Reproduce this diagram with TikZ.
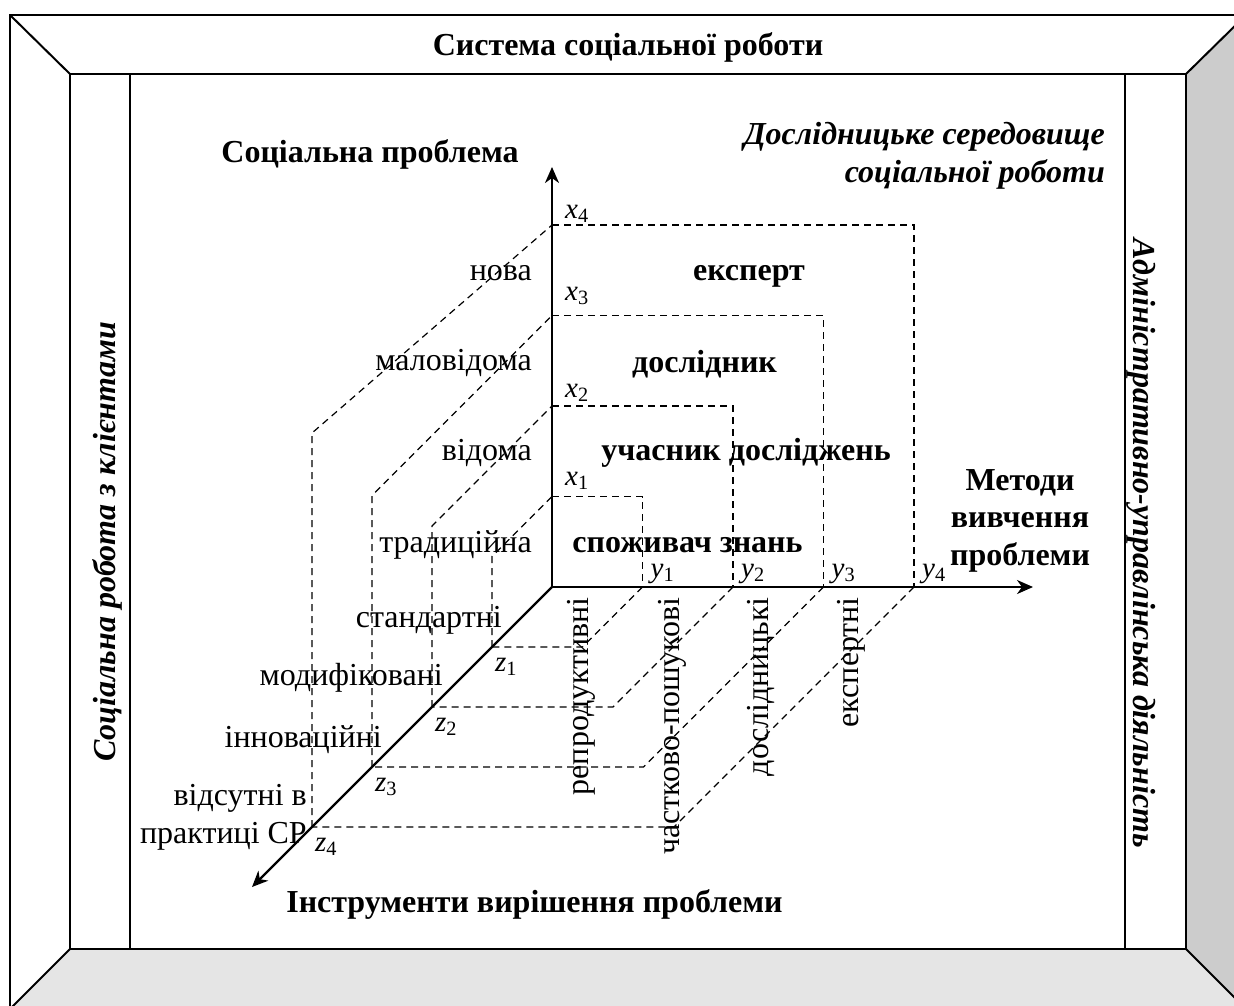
\documentclass[tikz,border=0pt]{standalone}
\usepackage{fontspec}
\setmainfont{Liberation Serif}
\usetikzlibrary{arrows.meta,calc}

\newcommand\lblsize{\fontsize{32}{37.5}\selectfont}
\newcommand\ticksize{\fontsize{29}{30}\selectfont}
\newcommand\ax[2]{\textit{#1}\textsubscript{#2}}
\colorlet{wallgray}{gray!40}
\colorlet{floorgray}{gray!20}

\begin{document}
\begin{tikzpicture}
[
	x=1pt,y=-1pt,
	frameline/.style={line width=2pt},
	axisline/.style={line width=2.2pt,-{Stealth[length=16pt,width=14pt,inset=5pt]}},
	gridline/.style={line width=1.2pt,dash pattern=on 7pt off 5pt},
	headlbl/.style={font=\lblsize\bfseries,inner sep=0pt,anchor=base,align=center},
	sidelbl/.style={font=\lblsize\bfseries\itshape,inner sep=0pt,anchor=base},
	rolelbl/.style={font=\lblsize\bfseries,inner sep=0pt,anchor=base},
	levellbl/.style={font=\lblsize,inner sep=0pt,anchor=base east,align=right},
	methodlbl/.style={font=\lblsize,inner sep=0pt,anchor=base east,rotate=90},
	ticklbl/.style={font=\ticksize,inner sep=0pt,anchor=base west}
]

	\clip (0,0) rectangle (1234,1005);

	\fill[wallgray] (1186,74) -- (1246,15) -- (1246,1009) -- (1186,949) -- cycle;
	\fill[floorgray] (70,949) -- (1186,949) -- (1246,1009) -- (10,1009) -- cycle;
	\draw[frameline] (10,1009) -- (10,15) -- (1246,15);
	\draw[frameline] (70,74) rectangle (1186,949);
	\draw[frameline] (130,74) -- (130,949);
	\draw[frameline] (1125,74) -- (1125,949);
	\draw[frameline] (10,15) -- (70,74) (1246,15) -- (1186,74);
	\draw[frameline] (70,949) -- (10,1009) (1186,949) -- (1246,1009);

	\node[headlbl] at (628,55) (system) {Система соціальної роботи};
	\node[sidelbl,rotate=90] at (115,542) (clients) {Соціальна робота з клієнтами};
	\node[sidelbl,rotate=-90] at (1133,543) (admin) {Адміністративно-управлінська діяльність};
	\node[sidelbl,anchor=base east,align=right] at (1105,182) (environment) {Дослідницьке середовище\\соціальної роботи};

	\coordinate (O) at (552,587);
	\coordinate (xend) at (552,167);
	\coordinate (yend) at (1033,587);
	\coordinate (zend) at (252,887);

	\foreach \k in {1,...,4}
	{
		\coordinate (x\k) at ($(O)+(0,-90.5*\k)$);
		\coordinate (y\k) at ($(O)+(90.5*\k,0)$);
		\coordinate (z\k) at ($(O)+(-60*\k,60*\k)$);
	}

	\foreach \k/\h in {1/60,2/120,3/180,4/208}
	{
		\draw[gridline] (x\k) -| (y\k);
		\draw[gridline] (y\k) -- ++(-60*\k,60*\k) -- (z\k);
		\draw[gridline] (z\k) -- ($(x\k)+(-60*\k,\h)$) -- (x\k);
	}

	\draw[axisline] (O) -- (xend);
	\draw[axisline] (O) -- (yend);
	\draw[axisline] (O) -- (zend);

	\foreach \k/\b in {1/485,2/397,3/300,4/218}
		\node[ticklbl] at (565,\b) (xlbl\k) {\ax{x}{\k}};
	\foreach \k in {1,...,4}
	{
		\node[ticklbl] at ($(y\k)+(8,-10)$) (ylbl\k) {\ax{y}{\k}};
		\node[ticklbl] at ($(z\k)+(3,24)$) (zlbl\k) {\ax{z}{\k}};
	}

	\node[headlbl] at (370,162) (problem) {Соціальна проблема};
	\node[headlbl] at (1020,565) (methods) {Методи\\вивчення\\проблеми};
	\node[headlbl] at (534.5,912) (tools) {Інструменти вирішення проблеми};

	\node[levellbl] at (532,280) (nova) {нова};
	\node[levellbl] at (532,370) (malovidoma) {маловідома};
	\node[levellbl] at (532,460) (vidoma) {відома};
	\node[levellbl] at (532,552) (tradytsiina) {традиційна};
	\node[levellbl] at (502,627) (standartni) {стандартні};
	\node[levellbl] at (443,685) (modyfikovani) {модифіковані};
	\node[levellbl] at (382,747) (innovatsiini) {інноваційні};
	\node[levellbl] at (307,843) (vidsutni) {відсутні в\\практиці СР};

	\node[rolelbl] at (749,280) (ekspert) {експерт};
	\node[rolelbl] at (704.5,372) (doslidnyk) {дослідник};
	\node[rolelbl] at (746,460) (uchasnyk) {учасник досліджень};
	\node[rolelbl] at (687.5,552) (spozhyvach) {споживач знань};

	\node[methodlbl] at (588,597) (reprod) {репродуктивні};
	\node[methodlbl] at (679,597) (chastkovo) {частково-пошукові};
	\node[methodlbl] at (768,597) (doslidnytski) {дослідницькі};
	\node[methodlbl] at (858,597) (ekspertni) {експертні};

\end{tikzpicture}
\end{document}
